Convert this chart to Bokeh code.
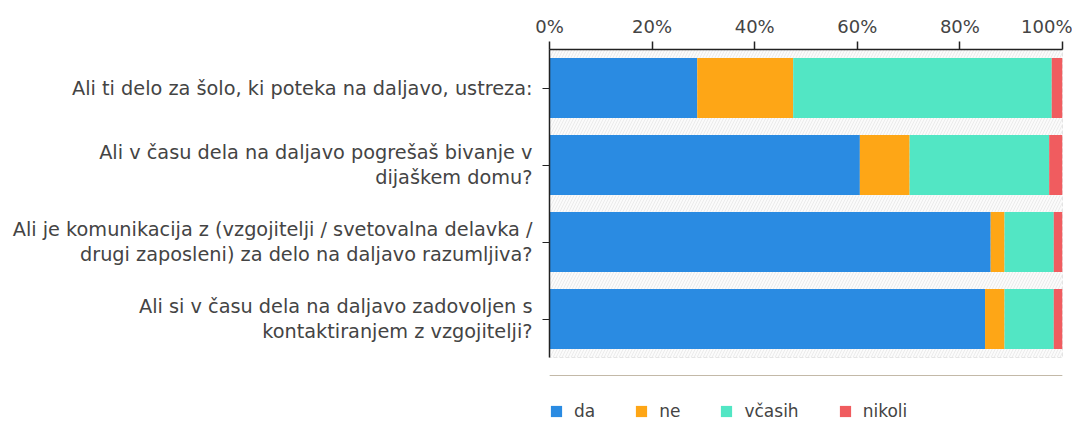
from bokeh.plotting import figure
from bokeh.layouts import column
from bokeh.models import (ColumnDataSource, FactorRange, Range1d, Legend, LegendItem,
                          PrintfTickFormatter, FixedTicker, BoxAnnotation)
from bokeh.embed import file_html
from bokeh.resources import INLINE

questions = [
    "Ali ti delo za šolo, ki poteka na daljavo, ustreza:",
    "Ali v času dela na daljavo pogrešaš bivanje v\ndijaškem domu?",
    "Ali je komunikacija z (vzgojitelji / svetovalna delavka /\ndrugi zaposleni) za delo na daljavo razumljiva?",
    "Ali si v času dela na daljavo zadovoljen s\nkontaktiranjem z vzgojitelji?",
]
series = ["da", "ne", "včasih", "nikoli"]
da = [28.8, 60.5, 86.0, 84.9]
ne = [18.7, 9.7, 2.7, 3.8]
vcasih = [50.4, 27.2, 9.6, 9.6]
nikoli = [2.1, 2.6, 1.7, 1.7]
colors = ["#2a8be2", "#fea616", "#52e6c4", "#f05c5f"]
ticks = [0, 20, 40, 60, 80, 100]

FONT = "DejaVu Sans"

src = ColumnDataSource(dict(q=questions, da=da, ne=ne, vcasih=vcasih, nikoli=nikoli))

p = figure(width=1072, height=375, output_backend="svg", toolbar_location=None,
           y_range=FactorRange(factors=list(reversed(questions))),
           x_range=Range1d(0, 100), x_axis_location="above",
           min_border_left=549, min_border_right=10, min_border_top=49, min_border_bottom=18)

bg = BoxAnnotation(fill_color="#fbfbfb", fill_alpha=1.0, hatch_pattern="/",
                   hatch_color="#ebebeb", hatch_scale=6, hatch_weight=1, line_color=None,
                   level="underlay")
p.add_layout(bg)

rs = p.hbar_stack(["da", "ne", "vcasih", "nikoli"], y="q", height=0.78, color=colors,
                  line_color=None, source=src)

p.xgrid.ticker = FixedTicker(ticks=ticks)
p.xgrid.grid_line_color = "#e4e4e4"
p.ygrid.grid_line_color = None
p.outline_line_color = "#dddddd"
p.outline_line_dash = "4 2"

xa = p.xaxis[0]
xa.ticker = FixedTicker(ticks=ticks)
xa.formatter = PrintfTickFormatter(format="%d%%")
xa.axis_line_color = "#222222"
xa.axis_line_width = 1.5
xa.major_tick_line_color = "#222222"
xa.major_tick_line_width = 1.5
xa.major_tick_out = 8
xa.major_tick_in = 0
xa.minor_tick_line_color = None
xa.major_label_text_font = FONT
xa.major_label_text_font_size = "18px"
xa.major_label_text_color = "#444444"
xa.major_label_standoff = 5

ya = p.yaxis[0]
ya.axis_line_color = "#222222"
ya.axis_line_width = 1.5
ya.major_tick_line_color = "#222222"
ya.major_tick_out = 7
ya.major_tick_in = 0
ya.major_label_text_font = FONT
ya.major_label_text_font_size = "19.3px"
ya.major_label_text_color = "#444444"
ya.major_label_standoff = 10
ya.major_label_text_line_height = 1.1

# Legend strip below the chart (separate figure; its swatches come from
# out-of-view copies of the series glyphs)
lg = figure(width=1072, height=46, output_backend="svg", toolbar_location=None,
            x_axis_type=None, y_axis_type=None, x_range=Range1d(0, 1), y_range=Range1d(0, 1),
            min_border=0, outline_line_color=None)
lg.grid.grid_line_color = None
lsrc = ColumnDataSource(dict(y=[10], left=[0], right=[1]))
lrs = [lg.hbar(y="y", left="left", right="right", height=1, color=c, line_color=None, source=lsrc)
       for c in colors]

legend = Legend(items=[LegendItem(label=s, renderers=[r]) for s, r in zip(series, lrs)],
                orientation="horizontal", location=(0, 0),
                border_line_color=None, background_fill_alpha=0,
                padding=0, margin=0, spacing=39, label_standoff=11,
                glyph_width=14, glyph_height=14,
                label_text_font=FONT, label_text_font_size="17px",
                label_text_color="#444444")
lg.add_layout(legend, "center")

open("out.html", "w").write(file_html(column(p, lg, spacing=0), INLINE))
